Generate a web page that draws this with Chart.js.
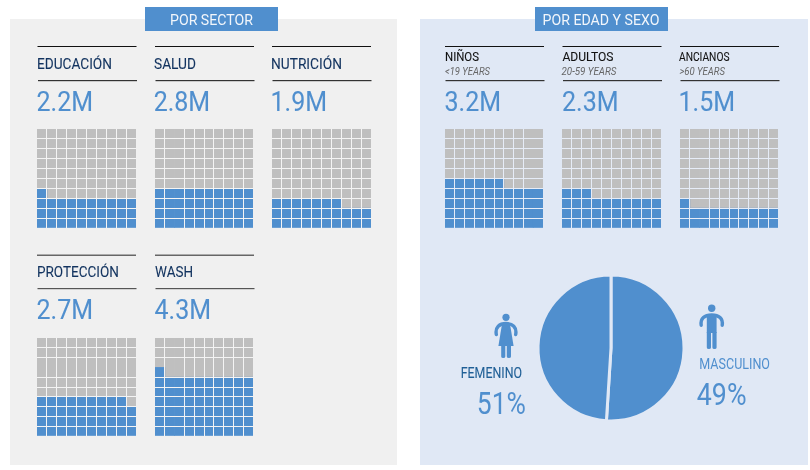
<!DOCTYPE html>
<html><head><meta charset="utf-8">
<script src="https://cdn.jsdelivr.net/npm/chart.js@4"></script>
<style>
html,body{margin:0;padding:0;background:#fff;width:810px;height:470px;overflow:hidden}
#stage{position:relative;width:810px;height:470px}
.box{position:absolute}
canvas{position:absolute}
svg{position:absolute;left:0;top:0}
text{font-family:Roboto,sans-serif}
</style></head><body><div id="stage"></div>
<script>
// ---- data ----
const sectorLabels = ["EDUCACIÓN","SALUD","NUTRICIÓN","PROTECCIÓN","WASH"];
const sectorValues = ["2.2M","2.8M","1.9M","2.7M","4.3M"];
const sectorCells  = [31,40,27,39,61];
const ageLabels = ["NIÑOS","ADULTOS","ANCIANOS"];
const ageRanges = ["<19 YEARS","20-59 YEARS",">60 YEARS"];
const ageValues = ["3.2M","2.3M","1.5M"];
const ageCells  = [46,33,21];
const sexLabels = ["FEMENINO","MASCULINO"];
const sexShown  = ["51%","49%"];
const pieValues = [51,49];
const panelTitles = ["POR SECTOR","POR EDAD Y SEXO"];

// ---- styling / layout ----
const BLUE="#508fce", GRAY="#bfbfbf", LEFT_BG="#f0f0f0", RIGHT_BG="#e0e8f5";
const LEFT_GAP="#f4f4f4", RIGHT_GAP="#e6ecf7";
const stage=document.getElementById('stage');
const NS="http://www.w3.org/2000/svg";
function box(x,y,w,h,c){const d=document.createElement('div');d.className='box';
  d.style.cssText=`left:${x}px;top:${y}px;width:${w}px;height:${h}px;background:${c}`;stage.appendChild(d);}
box(10,19,387,446,LEFT_BG);
box(420,19,388,446,RIGHT_BG);
box(145,7,133,24,BLUE);
box(535,7,133,24,BLUE);

const svg=document.createElementNS(NS,'svg');
svg.setAttribute('width',810);svg.setAttribute('height',470);

function txt(s,x,y,size,w,fill,extra,heavy){
  const t=document.createElementNS(NS,'text');
  t.textContent=s;t.setAttribute('x',x);t.setAttribute('y',y);
  t.setAttribute('font-size',size);t.setAttribute('fill',fill);
  t.setAttribute('textLength',w);t.setAttribute('lengthAdjust','spacingAndGlyphs');
  if(extra)t.setAttribute('font-style',extra);
  if(heavy){t.setAttribute('stroke',fill);t.setAttribute('stroke-width',heavy);}
  svg.appendChild(t);
}
function rule(x,y,w,h,c){
  const r=document.createElementNS(NS,'rect');
  r.setAttribute('x',x);r.setAttribute('y',y);r.setAttribute('width',w);r.setAttribute('height',h);
  r.setAttribute('fill',c);svg.appendChild(r);
}
const xAxisValues=[1,2,3,4,5,6,7,8,9,10];
function waffle(cells,x,y,w,h,bg,hideV,hideH){
  const full=Math.floor(cells/10), extra=cells%10;
  const blue=xAxisValues.map(c=>full+(c<=extra?1:0));
  const rest=blue.map(v=>10-v);
  const c=document.createElement('canvas');
  c.width=w;c.height=h;c.style.cssText=`left:${x}px;top:${y}px;width:${w}px;height:${h}px`;
  stage.appendChild(c);
  const lineColor=(hide)=>ctx=>{
    const i=ctx.index;
    if(i===undefined||i===0||i===10||hide.includes(i))return 'rgba(0,0,0,0)';
    return bg;
  };
  new Chart(c,{type:'bar',
    data:{labels:xAxisValues,datasets:[
      {data:blue,backgroundColor:BLUE,borderWidth:0,barPercentage:1,categoryPercentage:1},
      {data:rest,backgroundColor:GRAY,borderWidth:0,barPercentage:1,categoryPercentage:1}]},
    options:{responsive:false,animation:false,events:[],devicePixelRatio:1,
      layout:{padding:0},
      plugins:{legend:{display:false},tooltip:{enabled:false}},
      scales:{
        x:{stacked:true,grid:{z:1,lineWidth:1,drawTicks:false,offset:true,color:lineColor(hideV)},border:{display:false},ticks:{display:false}},
        y:{stacked:true,min:0,max:10,grid:{z:1,lineWidth:1,drawTicks:false,color:lineColor(hideH)},border:{display:false},ticks:{display:false,stepSize:1}}
      }}});
}

// titles
txt(panelTitles[0],170,25,15.5,83,"#f2f6fb");
txt(panelTitles[1],542.5,25,15.5,117,"#f2f6fb");

// sector cards
const NAVY="#12335f";
const sectorX=[37,155,272,37,155];
const sectorRuleX=[37.5,155,272,37,155];
const sectorLabelX=[37,154,271,37,155];
const sectorValueX=[36.5,153.7,270.5,36.5,154.5];
const sectorW=[75,42,71,82,38];
const sectorGridW=[99,98,99,99,98];
const sectorHideV=[[],[2],[],[],[2]];
const sectorHideH=[[],[],[],[7],[7]];
sectorLabels.forEach((s,i)=>{
  const second=i>=3;
  const x=sectorX[i];
  const ruleC=second?"#666":"#111", rule2=second?"#555":"#333";
  rule(sectorRuleX[i],second?254.5:46,99,second?1.5:1,ruleC);
  rule(sectorRuleX[i]+0.5,second?288:80,99,1.2,rule2);
  txt(s,sectorLabelX[i],second?277.3:69.3,15,sectorW[i],NAVY,null,0.1);
  txt(sectorValues[i],sectorValueX[i],second?319:110.7,28.5,56.5,BLUE,null,0.1);
  waffle(sectorCells[i],x,second?338:129,sectorGridW[i],second?98:99,LEFT_GAP,sectorHideV[i],sectorHideH[i]);
});

// age cards
const ageX=[445,562,680];
const ageRuleX=[445,562.5,680];
const ageGridW=[98,99,98];
const ageLabelX=[445,562.5,679];
const ageLabelW=[34,51,50.5];
const ageRangeX=[445,561.5,679.5];
const ageRangeW=[45,55,45.5];
const ageValueX=[444.5,562,678.5];
const ageHideV=[[9],[],[2]];
ageLabels.forEach((s,i)=>{
  rule(ageRuleX[i],46,99,1,"#111");
  rule(ageRuleX[i]+0.5,80,99,1.2,"#333");
  txt(s,ageLabelX[i],60.7,13.5,ageLabelW[i],"#111",null,0.1);
  txt(ageRanges[i],ageRangeX[i],74.7,10,ageRangeW[i],"#666","italic");
  txt(ageValues[i],ageValueX[i],110.7,28.5,56.5,BLUE,null,0.1);
  waffle(ageCells[i],ageX[i],129,ageGridW[i],99,RIGHT_GAP,ageHideV[i],[]);
});

// pie
const pc=document.createElement('canvas');
pc.width=160;pc.height=160;pc.style.cssText='left:531px;top:268px;width:160px;height:160px';
stage.appendChild(pc);
new Chart(pc,{type:'pie',
  data:{labels:sexLabels,datasets:[{data:pieValues,backgroundColor:BLUE,borderColor:RIGHT_BG,borderWidth:3,radius:73}]},
  options:{responsive:false,animation:false,events:[],devicePixelRatio:1,layout:{padding:0},
    plugins:{legend:{display:false},tooltip:{enabled:false}}}});

// sex labels
txt(sexLabels[0],460.7,378,14,61.3,"#1f5f96",null,0.1);
txt(sexShown[0],476.8,414,31,49,BLUE);
txt(sexLabels[1],699.3,369,14,70.7,BLUE);
txt(sexShown[1],696.8,405,31,49.7,BLUE);

// icons
function icon(html){const g=document.createElementNS(NS,'g');g.innerHTML=html;svg.appendChild(g);}
icon(`<circle cx="506" cy="317.3" r="3.6" fill="${BLUE}"/>
<path d="M496.3 334.5C495 327 499.5 323.5 506 323.5S517 327 515.7 334.5" fill="none" stroke="${BLUE}" stroke-width="3.4" stroke-linecap="round"/>
<path d="M502 324H510L513.6 346H498.4Z" fill="${BLUE}"/>
<path d="M501.2 345H505.3V356.5A2 1.5 0 0 1 501.2 356.5Z M506.8 345H511V356.5A2 1.5 0 0 1 506.8 356.5Z" fill="${BLUE}"/>`);
icon(`<circle cx="711.7" cy="308.3" r="3.7" fill="${BLUE}"/>
<path d="M701.2 325.2C700.2 318.5 704.5 315 711.7 315S723.2 318.5 722.2 325.2" fill="none" stroke="${BLUE}" stroke-width="3.4" stroke-linecap="round"/>
<path d="M706.8 315H716.6V333H706.8Z" fill="${BLUE}"/>
<path d="M706.8 332H711V347.5A2 1.5 0 0 1 706.8 347.5Z M712.4 332H716.6V347.5A2 1.5 0 0 1 712.4 347.5Z" fill="${BLUE}"/>`);

stage.appendChild(svg);
</script></body></html>
